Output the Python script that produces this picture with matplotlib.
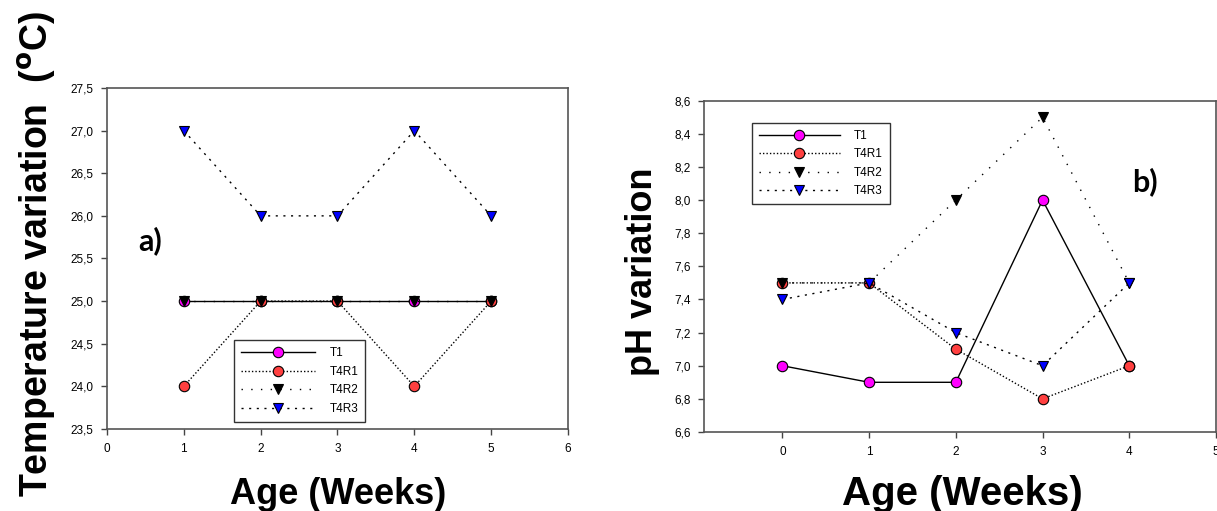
import matplotlib
matplotlib.use("Agg")
import matplotlib.pyplot as plt
from matplotlib.ticker import FixedLocator, FixedFormatter

# ---- data ----
weeks_a = [1, 2, 3, 4, 5]
temp_T1 = [25.0, 25.0, 25.0, 25.0, 25.0]
temp_T4R1 = [24.0, 25.0, 25.0, 24.0, 25.0]
temp_T4R2 = [25.0, 25.0, 25.0, 25.0, 25.0]
temp_T4R3 = [27.0, 26.0, 26.0, 27.0, 26.0]

weeks_b = [0, 1, 2, 3, 4]
ph_T1 = [7.0, 6.9, 6.9, 8.0, 7.0]
ph_T4R1 = [7.5, 7.5, 7.1, 6.8, 7.0]
ph_T4R2 = [7.5, 7.5, 8.0, 8.5, 7.5]
ph_T4R3 = [7.4, 7.5, 7.2, 7.0, 7.5]

series_names = ["T1", "T4R1", "T4R2", "T4R3"]
xticks_a = [0, 1, 2, 3, 4, 5, 6]
yticks_a = [23.5, 24.0, 24.5, 25.0, 25.5, 26.0, 26.5, 27.0, 27.5]
xticks_b = [0, 1, 2, 3, 4, 5]
yticks_b = [6.6, 6.8, 7.0, 7.2, 7.4, 7.6, 7.8, 8.0, 8.2, 8.4, 8.6]

plt.rcParams['font.family'] = ['Liberation Sans', 'DejaVu Sans']

fig = plt.figure(figsize=(12.17, 5.11), dpi=100)
ax_a = fig.add_axes([0.0879, 0.1605, 0.3788, 0.6673])
ax_b = fig.add_axes([0.5787, 0.1546, 0.4205, 0.6484])

styles = [
    dict(color='black', ls='-', lw=1.0, marker='o', mfc='#ff00ff'),
    dict(color='black', ls=(0, (1, 1.5)), lw=1.0, marker='o', mfc='#ff4040'),
    dict(color='black', ls=(0, (1, 6)), lw=1.0, marker='v', mfc='black'),
    dict(color='black', ls=(0, (1.5, 4)), lw=1.0, marker='v', mfc='#0000ff'),
]


def fmt(v, nd):
    return (f"{v:.{nd}f}").replace('.', ',')


def style_axes(ax, xt, yt, nd):
    ax.xaxis.set_major_locator(FixedLocator(xt))
    ax.xaxis.set_major_formatter(FixedFormatter([str(v) for v in xt]))
    ax.yaxis.set_major_locator(FixedLocator(yt))
    ax.yaxis.set_major_formatter(FixedFormatter([fmt(v, nd) for v in yt]))
    ax.tick_params(axis='both', direction='out', length=4, width=1,
                   labelsize=8.5, color='#444444', pad=6)
    for sp in ax.spines.values():
        sp.set_color('#555555')
        sp.set_linewidth(1.2)


# Panel a
for ys, name, st in zip([temp_T1, temp_T4R1, temp_T4R2, temp_T4R3], series_names, styles):
    ax_a.plot(weeks_a, ys, label=name, ms=7.5, mec='black', mew=0.8, **st)
ax_a.set_xlim(0, 6)
ax_a.set_ylim(23.5, 27.5)
style_axes(ax_a, xticks_a, yticks_a, 1)
fig.text(338 / 1217, 1 - 494 / 511, "Age (Weeks)", fontsize=26, fontweight='bold',
         ha='center', va='center')
fig.text(37 / 1217, 1 - 254 / 511, r"Temperature variation  ($^{\mathbf{o}}$C)",
         fontsize=27, fontweight='bold', rotation=90, ha='center', va='center')
ax_a.text(0.093, 0.551, "a)", transform=ax_a.transAxes, fontsize=22,
          fontweight='bold', family=['Lato', 'DejaVu Sans'], ha='center', va='center')
leg_a = ax_a.legend(loc='lower left', bbox_to_anchor=(0.262, 0.004), numpoints=1,
                    handlelength=6.3, fontsize=8.5, labelspacing=0.55, fancybox=False,
                    framealpha=1, edgecolor='#333333', borderpad=0.6, handletextpad=1.2)
leg_a.get_frame().set_linewidth(1.0)

# Panel b
for ys, name, st in zip([ph_T1, ph_T4R1, ph_T4R2, ph_T4R3], series_names, styles):
    ax_b.plot(weeks_b, ys, label=name, ms=7.5, mec='black', mew=0.8, **st)
ax_b.set_xlim(-0.9, 5)
ax_b.set_ylim(6.6, 8.6)
style_axes(ax_b, xticks_b, yticks_b, 1)
fig.text(962 / 1217, 1 - 494 / 511, "Age (Weeks)", fontsize=29, fontweight='bold',
         ha='center', va='center')
fig.text(642 / 1217, 1 - 272 / 511, "pH variation", fontsize=26, fontweight='bold',
         rotation=90, ha='center', va='center')
ax_b.text(0.861, 0.755, "b)", transform=ax_b.transAxes, fontsize=22,
          fontweight='bold', family=['Lato', 'DejaVu Sans'], ha='center', va='center')
leg_b = ax_b.legend(loc='upper left', bbox_to_anchor=(0.082, 0.951), numpoints=1,
                    handlelength=6.8, fontsize=8.5, labelspacing=0.55, fancybox=False,
                    framealpha=1, edgecolor='#333333', borderpad=0.6, handletextpad=1.2)
leg_b.get_frame().set_linewidth(1.0)

fig.savefig("out.png", dpi=100)
